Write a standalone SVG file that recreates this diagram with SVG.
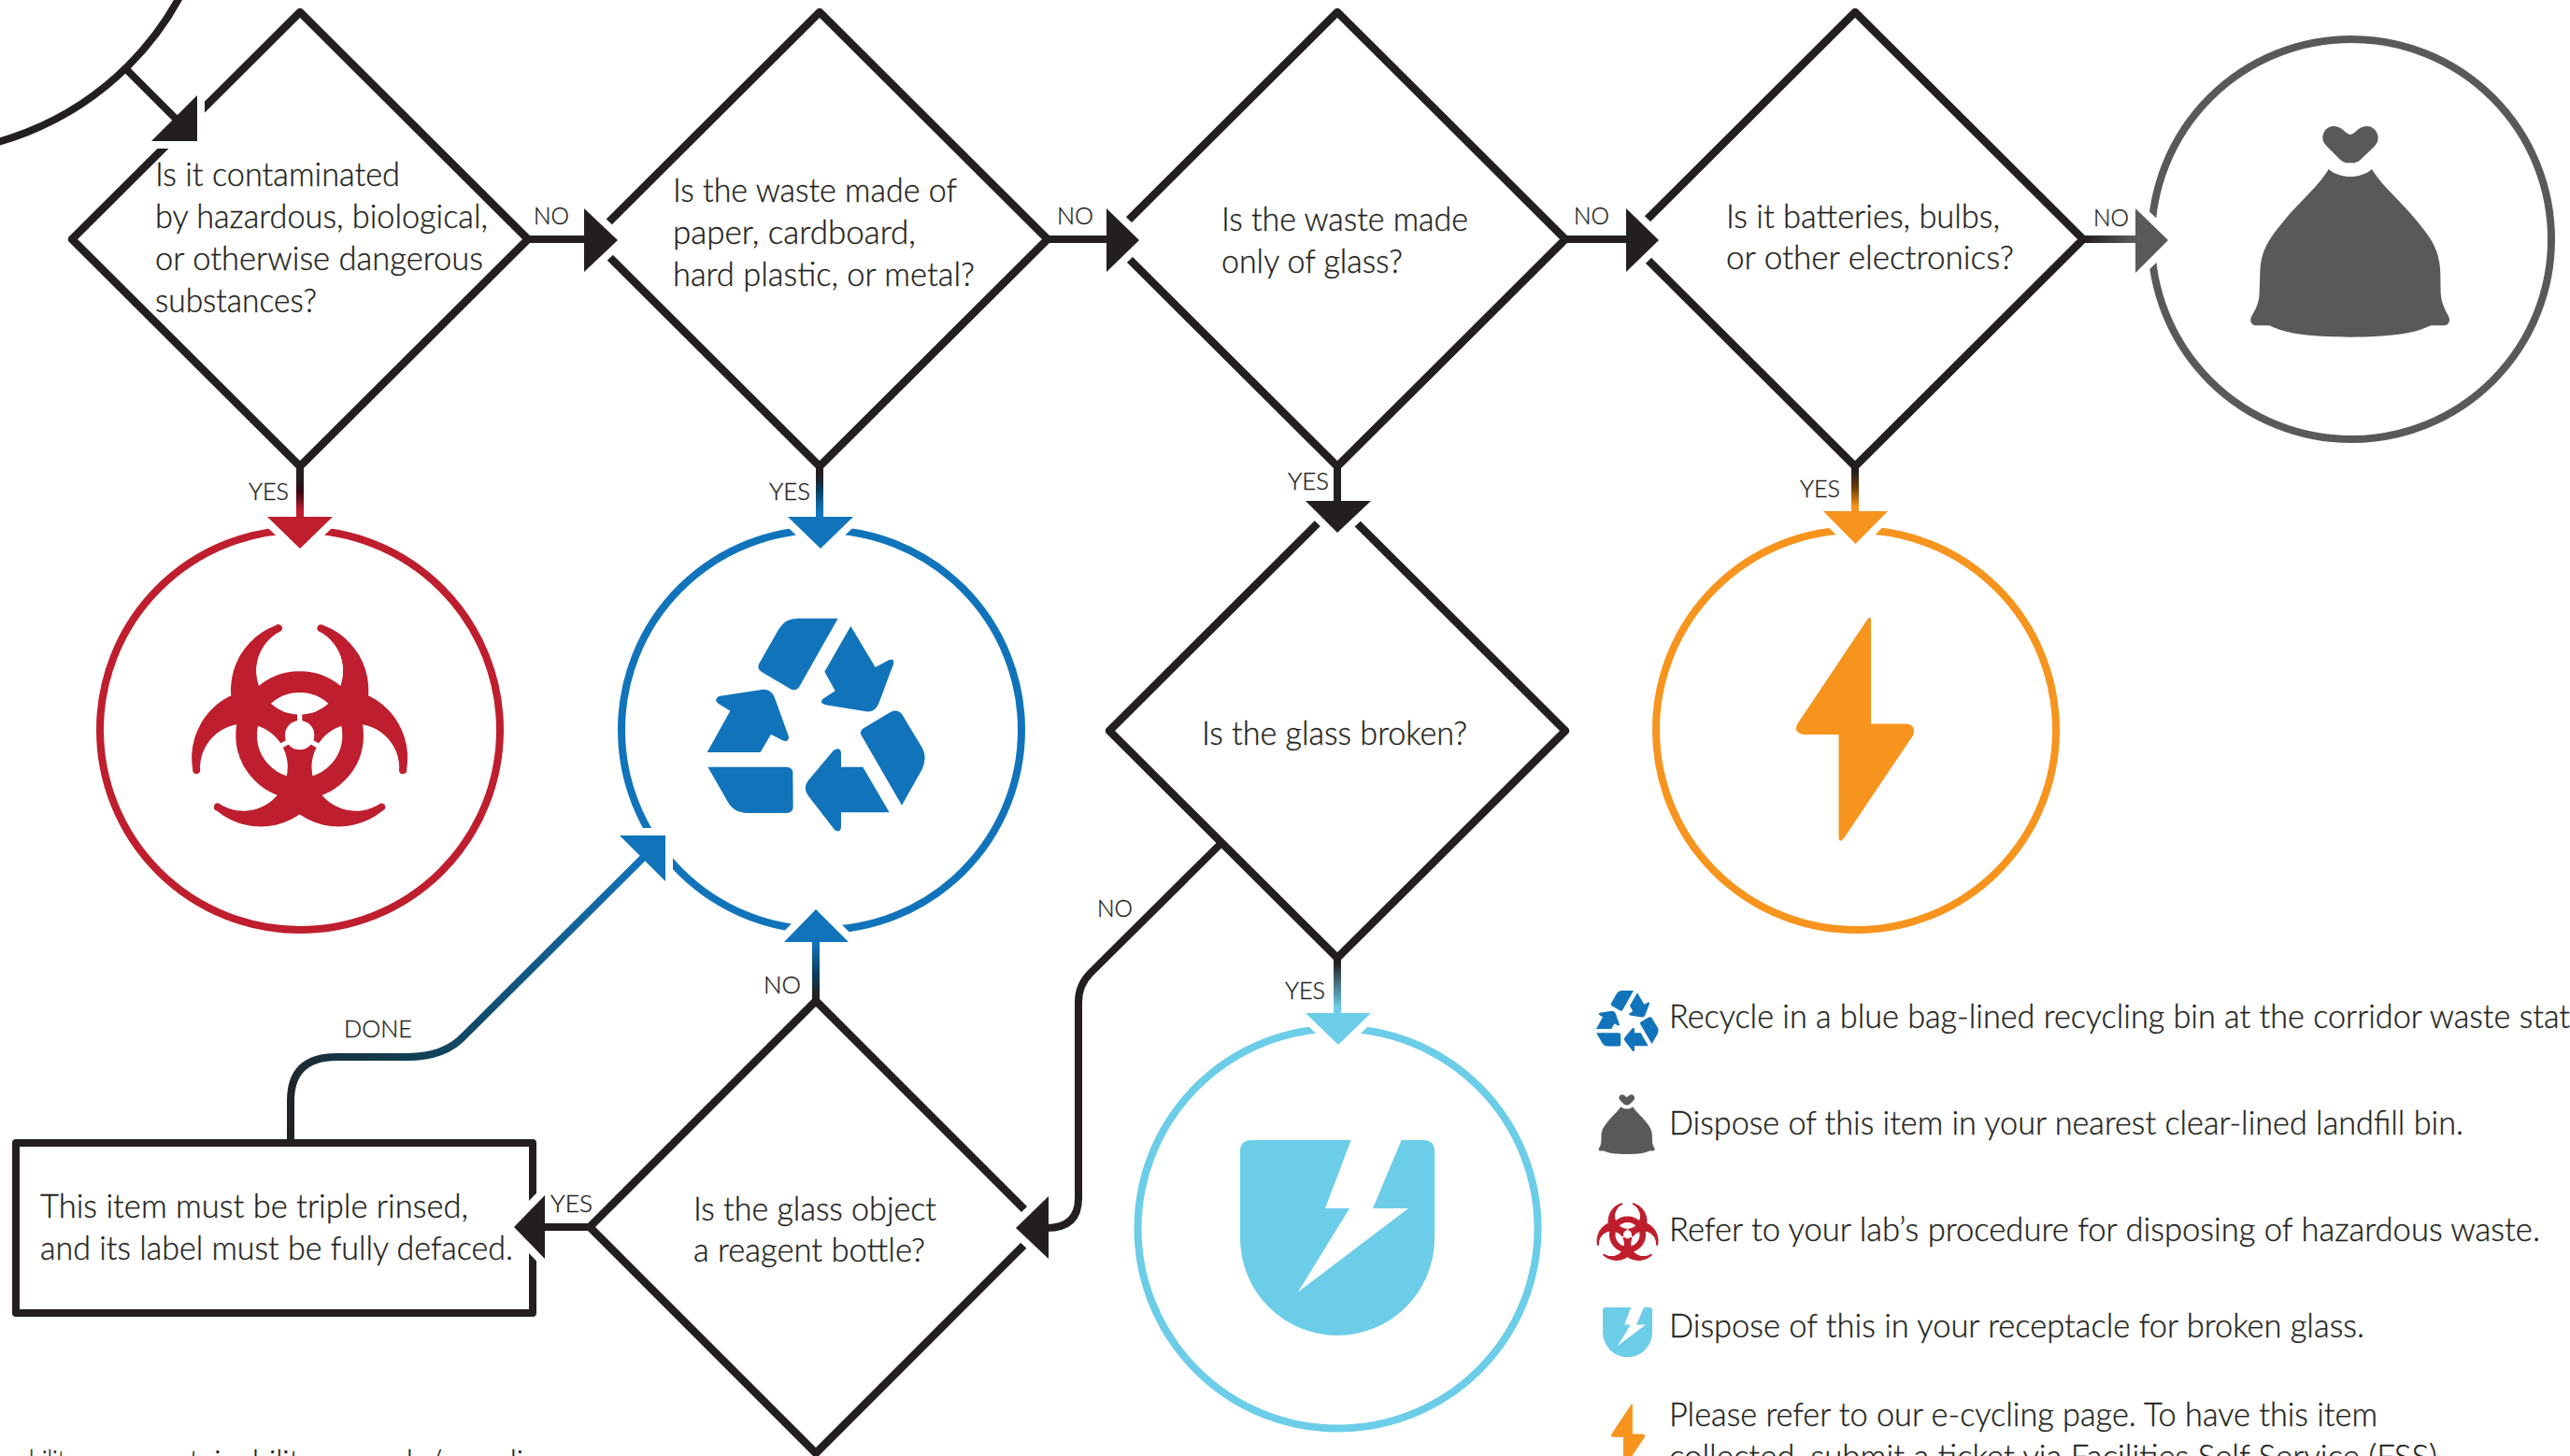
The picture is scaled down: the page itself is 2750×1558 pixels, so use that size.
<svg xmlns="http://www.w3.org/2000/svg" xmlns:xlink="http://www.w3.org/1999/xlink" width="2750" height="1558" viewBox="0 0 2750 1558">
<style>
text{font-family:"Lato","Open Sans",sans-serif;font-weight:300;fill:#231f20;stroke:#231f20;stroke-width:.35px}
.t{font-size:36px}
.l{font-size:25px}
.d{fill:#fff;stroke:#231f20;stroke-width:8.500;stroke-linejoin:round}
.c{fill:#fff;stroke-width:8}
.s{fill:none;stroke-width:8}
.ah{stroke:#fff;stroke-width:16;paint-order:stroke;stroke-linejoin:miter;stroke-miterlimit:6}
</style>
<defs>
<linearGradient id="gRed" gradientUnits="userSpaceOnUse" x1="0" y1="512" x2="0" y2="546"><stop offset="0" stop-color="#231f20"/><stop offset=".4" stop-color="#330512"/><stop offset="1" stop-color="#be1e2d"/></linearGradient>
<linearGradient id="gBlue" gradientUnits="userSpaceOnUse" x1="0" y1="510" x2="0" y2="546"><stop offset="0" stop-color="#231f20"/><stop offset=".4" stop-color="#0b3f60"/><stop offset="1" stop-color="#1174bb"/></linearGradient>
<linearGradient id="gOrange" gradientUnits="userSpaceOnUse" x1="0" y1="505" x2="0" y2="542"><stop offset="0" stop-color="#231f20"/><stop offset=".45" stop-color="#6b3a05"/><stop offset="1" stop-color="#f7941e"/></linearGradient>
<linearGradient id="gLight" gradientUnits="userSpaceOnUse" x1="0" y1="1030" x2="0" y2="1078"><stop offset="0" stop-color="#231f20"/><stop offset="1" stop-color="#6ccde8"/></linearGradient>
<linearGradient id="gGray" gradientUnits="userSpaceOnUse" x1="2232" y1="0" x2="2280" y2="0"><stop offset="0" stop-color="#231f20"/><stop offset="1" stop-color="#58595b"/></linearGradient>
<linearGradient id="gNo" gradientUnits="userSpaceOnUse" x1="0" y1="1066" x2="0" y2="1010"><stop offset="0" stop-color="#231f20"/><stop offset=".45" stop-color="#0b3f60"/><stop offset="1" stop-color="#1174bb"/></linearGradient>
<linearGradient id="gDone" gradientUnits="userSpaceOnUse" x1="311" y1="1220" x2="690" y2="915"><stop offset="0" stop-color="#231f20"/><stop offset=".3" stop-color="#123e50"/><stop offset="1" stop-color="#1174bb"/></linearGradient>
<g id="iRecycle" fill="#1174bb">
<path d="M530 125L400 125Q360 125 340 160L277 270Q268 285 285 297L375 350Q395 362 407 343Z"/>
<path d="M571 150L650 282L695 258Q712 253 708 272L662 395Q650 428 620 424L490 403Q468 395 482 383L521 358L487 296Z"/>
<path d="M735 725L605 500Q597 487 612 478L700 425Q720 415 735 432L800 540Q818 570 800 610Z"/>
<path d="M695 748L540 748L540 795Q538 815 520 805L435 695Q415 670 435 645L515 550Q535 535 540 555L540 602L610 602Z"/>
<path d="M112 602L365 602Q385 602 385 622L386 730Q386 750 365 750L240 750Q195 750 175 712Z"/>
<path d="M110 555L184 422L145 398Q130 385 148 375L285 354Q315 350 327 380L372 505Q372 525 352 517L315 497L281 555Z"/>
</g>
<g id="iBag" fill="#58595b">
<path d="M795 432C780 432 770 405 742 405C718 405 706 425 706 442C706 455 712 462 720 470L762 512C772 522 782 523 795 523C808 523 818 522 828 512L872 470C880 462 884 455 884 442C884 425 870 405 847 405C820 405 810 432 795 432Z"/>
<path d="M725 543C745 560 770 567 795 567C820 567 845 560 864 543C890 590 960 650 1005 705C1060 770 1083 810 1084 880L1085 940C1087 975 1100 995 1110 1015C1118 1030 1110 1045 1095 1045L1055 1045C1040 1045 1020 1082 795 1082C570 1082 550 1045 530 1045L492 1045C478 1045 470 1030 478 1015C490 995 502 975 503 940L505 880C505 810 530 770 585 705C630 650 700 590 725 543Z"/>
</g>
<path id="hz" d="M345 88A221 221 0 1 0 499 88A12 12 0 0 0 482 106A139 139 0 1 1 362 106A12 12 0 0 0 345 88Z"/>
<circle id="hole" cx="422" cy="235" r="139" fill="#fff"/>
<g id="iBio">
<g fill="#be1e2d"><use xlink:href="#hz"/><use xlink:href="#hz" transform="rotate(120 422 440)"/><use xlink:href="#hz" transform="rotate(240 422 440)"/></g>
<use xlink:href="#hole"/><use xlink:href="#hole" transform="rotate(120 422 440)"/><use xlink:href="#hole" transform="rotate(240 422 440)"/>
<circle cx="422" cy="440" r="171" fill="none" stroke="#be1e2d" stroke-width="68"/>
<circle cx="422" cy="440" r="47" fill="#fff"/>
<g stroke="#fff" stroke-width="16"><path d="M422 440V372"/><path d="M422 440L481 474"/><path d="M422 440L363 474"/></g>
</g>
<g id="iBolt" fill="#f7941e"><path d="M1998 663Q2002 658 2002 664L2002 774.5L2040 774.5Q2051 776 2047 787L1973 897Q1968 903 1967.500 896L1967.500 786L1930 786Q1919 784 1923 775Z"/></g>
<g id="iGlass"><path fill="#6ccde8" d="M1339 1220H1523Q1535 1220 1535 1232V1325A104 104 0 0 1 1327 1325V1232Q1327 1220 1339 1220Z"/><path fill="#fff" d="M1446 1219L1418 1293L1444 1293L1389 1382.500L1507 1293L1469 1293L1500 1219Z"/></g>
</defs>
<rect width="2750" height="1558" fill="#fff"/>

<g id="start"><circle class="s" cx="-89" cy="-156" r="320" stroke="#231f20"/></g>
<g id="q-contaminated"><polygon class="d" points="321,13 565,256 321,499 77,256"/>
<text class="t" x="166" y="199" textLength="262" lengthAdjust="spacingAndGlyphs">Is it contaminated</text>
<text class="t" x="166" y="244" textLength="356" lengthAdjust="spacingAndGlyphs">by hazardous, biological,</text>
<text class="t" x="166" y="289" textLength="351" lengthAdjust="spacingAndGlyphs">or otherwise dangerous</text>
<text class="t" x="166" y="334" textLength="173" lengthAdjust="spacingAndGlyphs">substances?</text></g>
<g id="q-paper"><polygon class="d" points="877,13 1121,256 877,499 633,256"/>
<text class="t" x="720" y="216" textLength="304" lengthAdjust="spacingAndGlyphs">Is the waste made of</text>
<text class="t" x="720" y="261" textLength="260" lengthAdjust="spacingAndGlyphs">paper, cardboard,</text>
<text class="t" x="720" y="306" textLength="323" lengthAdjust="spacingAndGlyphs">hard plastic, or metal?</text></g>
<g id="q-glass"><polygon class="d" points="1431,13 1675,256 1431,499 1187,256"/>
<text class="t" x="1307" y="247" textLength="264" lengthAdjust="spacingAndGlyphs">Is the waste made</text>
<text class="t" x="1307" y="292" textLength="194" lengthAdjust="spacingAndGlyphs">only of glass?</text></g>
<g id="q-electronics"><polygon class="d" points="1985,13 2229,256 1985,499 1741,256"/>
<text class="t" x="1847" y="244" textLength="293" lengthAdjust="spacingAndGlyphs">Is it batteries, bulbs,</text>
<text class="t" x="1847" y="288" textLength="308" lengthAdjust="spacingAndGlyphs">or other electronics?</text></g>
<g id="landfill"><circle class="c" cx="2516" cy="256" r="214" stroke="#58595b"/><use xlink:href="#iBag" transform="translate(2250 0) scale(.3333)"/></g>
<g id="hazard"><circle class="c" cx="321" cy="781" r="214" stroke="#be1e2d"/><use xlink:href="#iBio" transform="translate(180 640) scale(.3333)"/></g>
<g id="recycle"><circle class="c" cx="879" cy="781" r="214" stroke="#1174bb"/><use xlink:href="#iRecycle" transform="translate(720 620) scale(.3333)"/></g>
<g id="ecycle"><circle class="c" cx="1986" cy="781" r="214" stroke="#f7941e"/><use xlink:href="#iBolt"/></g>
<g id="q-broken"><polygon class="d" points="1431,539 1675,782 1431,1025 1187,782"/>
<text class="t" x="1286" y="797" textLength="284" lengthAdjust="spacingAndGlyphs">Is the glass broken?</text></g>
<g id="broken"><circle class="c" cx="1431.500" cy="1314.500" r="214" stroke="#6ccde8"/><use xlink:href="#iGlass"/></g>
<g id="q-reagent"><polygon class="d" points="873,1071 1115,1313 873,1555 631,1313"/>
<text class="t" x="742" y="1306" textLength="260" lengthAdjust="spacingAndGlyphs">Is the glass object</text>
<text class="t" x="742" y="1350" textLength="248" lengthAdjust="spacingAndGlyphs">a reagent bottle?</text></g>
<g id="rinse"><rect x="17" y="1223" width="553" height="182" fill="#fff" stroke="#231f20" stroke-width="8" stroke-linejoin="round"/>
<text class="t" x="43" y="1303" textLength="458" lengthAdjust="spacingAndGlyphs">This item must be triple rinsed,</text>
<text class="t" x="43" y="1348" textLength="506" lengthAdjust="spacingAndGlyphs">and its label must be fully defaced.</text></g>

<g id="connectors">
<polygon class="ah" fill="#231f20" points="211,102 211,151 162,151"/><path class="s" stroke="#231f20" d="M134 73L192 131"/>
<polygon class="ah" fill="#231f20" points="625,223 661,257 625,291"/><path class="s" stroke="#231f20" d="M565 256H627"/>
<polygon class="ah" fill="#231f20" points="1184,223 1219,257 1184,291"/><path class="s" stroke="#231f20" d="M1121 256H1186"/>
<polygon class="ah" fill="#231f20" points="1740,223 1775,257 1740,291"/><path class="s" stroke="#231f20" d="M1675 256H1742"/>
<polygon class="ah" fill="#58595b" points="2285,223 2320,257 2285,292"/><path class="s" stroke="url(#gGray)" d="M2229 256H2287"/>
<polygon class="ah" fill="#be1e2d" points="286,553 356,553 321,587"/><path class="s" stroke="url(#gRed)" d="M321 499V555"/>
<polygon class="ah" fill="#1174bb" points="843,553 913,553 878,587"/><path class="s" stroke="url(#gBlue)" d="M877 499V555"/>
<polygon class="ah" fill="#231f20" points="1397,536 1467,536 1431,570"/><path class="s" stroke="#231f20" d="M1431 499V538"/>
<polygon class="ah" fill="#f7941e" points="1951,547 2020,547 1985.500,582"/><path class="s" stroke="url(#gOrange)" d="M1985 499V549"/>
<polygon class="ah" fill="#6ccde8" points="1397,1084 1467,1084 1432,1118"/><path class="s" stroke="url(#gLight)" d="M1431 1025V1086"/>
<polygon class="ah" fill="#1174bb" points="839,1008 908,1008 873,973"/><path class="s" stroke="url(#gNo)" d="M873 1071V1006"/>
<polygon class="ah" fill="#1174bb" points="663,894 712,894 712,943"/><path class="s" stroke="url(#gDone)" d="M311 1222V1178Q311 1131 360 1131H436Q476 1131 497 1108L690 916"/>
<polygon class="ah" fill="#231f20" points="583,1279 583,1347 550,1313"/><path class="s" stroke="#231f20" d="M631 1313H581"/>
<polygon class="ah" fill="#231f20" points="1122,1280 1122,1347 1087,1314"/><path class="s" stroke="#231f20" d="M1307 902L1167 1041Q1154 1054 1154 1072V1282Q1154 1314 1120 1314"/>
<text class="l" x="571" y="240" textLength="38" lengthAdjust="spacingAndGlyphs">NO</text>
<text class="l" x="1131" y="240" textLength="39" lengthAdjust="spacingAndGlyphs">NO</text>
<text class="l" x="1684" y="240" textLength="38" lengthAdjust="spacingAndGlyphs">NO</text>
<text class="l" x="2240" y="242" textLength="38" lengthAdjust="spacingAndGlyphs">NO</text>
<text class="l" x="266" y="535" textLength="43" lengthAdjust="spacingAndGlyphs">YES</text>
<text class="l" x="823" y="535" textLength="44" lengthAdjust="spacingAndGlyphs">YES</text>
<text class="l" x="1378" y="524" textLength="44" lengthAdjust="spacingAndGlyphs">YES</text>
<text class="l" x="1926" y="532" textLength="43" lengthAdjust="spacingAndGlyphs">YES</text>
<text class="l" x="1375" y="1069" textLength="43" lengthAdjust="spacingAndGlyphs">YES</text>
<text class="l" x="1174" y="981" textLength="38" lengthAdjust="spacingAndGlyphs">NO</text>
<text class="l" x="817" y="1063" textLength="40" lengthAdjust="spacingAndGlyphs">NO</text>
<text class="l" x="368" y="1110" textLength="73" lengthAdjust="spacingAndGlyphs">DONE</text>
<text class="l" x="589" y="1297" textLength="45" lengthAdjust="spacingAndGlyphs">YES</text>
</g>

<g id="legend">
<use xlink:href="#iRecycle" transform="translate(1697.500 1048) scale(.0953)"/>
<text class="t" x="1786" y="1100" textLength="964" lengthAdjust="spacingAndGlyphs">Recycle in a blue bag-lined recycling bin at the corridor waste stat</text>
<use xlink:href="#iBag" transform="translate(1666 1133.300) scale(.094)"/>
<text class="t" x="1786" y="1214" textLength="850" lengthAdjust="spacingAndGlyphs">Dispose of this item in your nearest clear-lined landfill bin.</text>
<use xlink:href="#iBio" transform="translate(1701.300 1279) scale(.0953)"/>
<text class="t" x="1786" y="1328" textLength="932" lengthAdjust="spacingAndGlyphs">Refer to your lab’s procedure for disposing of hazardous waste.</text>
<use xlink:href="#iGlass" transform="translate(1376.900 1088.100) scale(.2548)"/>
<text class="t" x="1786" y="1431" textLength="744" lengthAdjust="spacingAndGlyphs">Dispose of this in your receptacle for broken glass.</text>
<use xlink:href="#iBolt" transform="translate(1174.300 1313) scale(.286)"/>
<text class="t" x="1786" y="1526" textLength="758" lengthAdjust="spacingAndGlyphs">Please refer to our e-cycling page. To have this item</text>
<text class="t" x="1786" y="1571" textLength="822" lengthAdjust="spacingAndGlyphs">collected, submit a ticket via Facilities Self Service (FSS)</text>
</g>
<g id="footer">
<text class="t" x="31" y="1577" textLength="52" lengthAdjust="spacingAndGlyphs">bility</text>
<text class="t" x="157" y="1577" textLength="180" lengthAdjust="spacingAndGlyphs">sustainability</text>
<text class="t" x="424" y="1577" textLength="170" lengthAdjust="spacingAndGlyphs">du/recycling</text>
</g>
</svg>
